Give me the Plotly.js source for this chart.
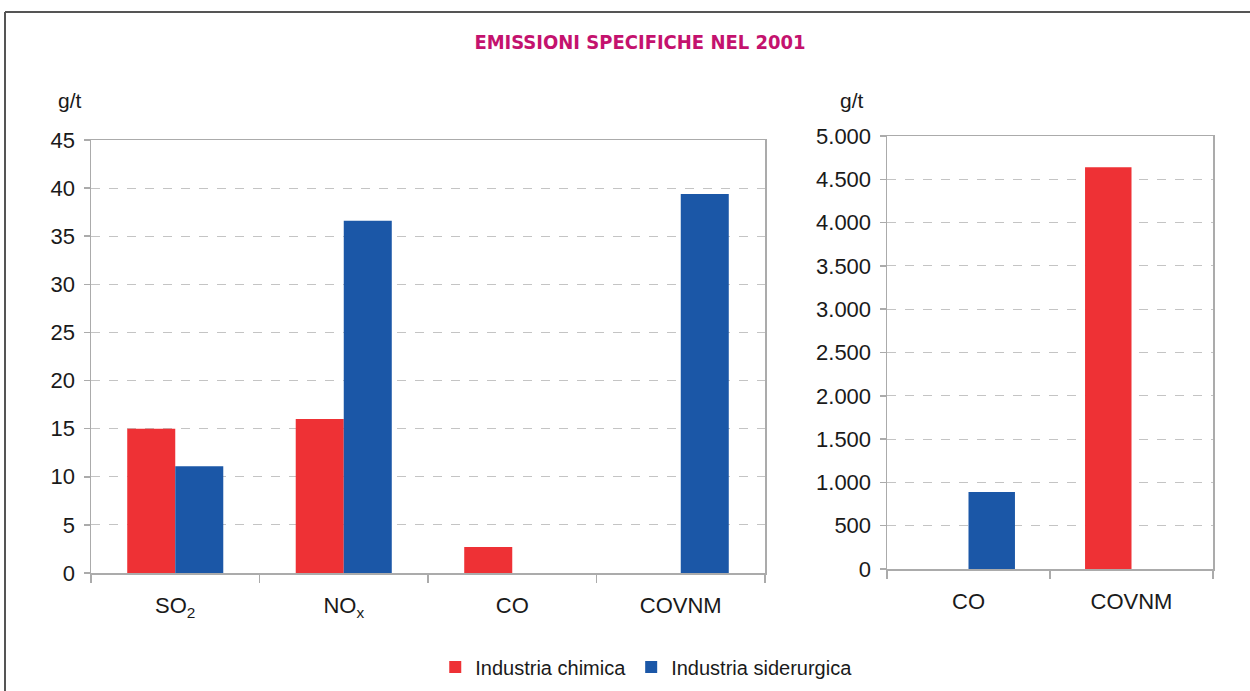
<!DOCTYPE html>
<html>
<head>
<meta charset="utf-8">
<script src="https://cdn.plot.ly/plotly-3.0.1.min.js"></script>
<style>html,body{margin:0;padding:0;background:#fff;}#chart{width:1250px;height:691px;}</style>
</head>
<body>
<div id="chart"></div>
<script>
const categoriesLeft = ['SO<sub>2</sub>', 'NO<sub>x</sub>', 'CO', 'COVNM'];
const chimicaLeft = [15, 16, 2.7, 0];
const siderurgicaLeft = [11.1, 36.6, 0, 39.4];

const categoriesRight = ['CO', 'COVNM'];
const chimicaRight = [0, 4640];
const siderurgicaRight = [890, 0];

const seriesNames = ['Industria chimica', 'Industria siderurgica'];
const leftTicks = [0, 5, 10, 15, 20, 25, 30, 35, 40, 45];
const rightTicks = [0, 500, 1000, 1500, 2000, 2500, 3000, 3500, 4000, 4500, 5000];

const RED = '#EE3135';
const BLUE = '#1B57A7';
const FONT = 'Liberation Sans, Arial, sans-serif';

const traces = [
  {type: 'bar', x: categoriesLeft, y: chimicaLeft, name: seriesNames[0], marker: {color: RED, line: {width: 0}}, xaxis: 'x', yaxis: 'y', legendgroup: 'a'},
  {type: 'bar', x: categoriesLeft, y: siderurgicaLeft, name: seriesNames[1], marker: {color: BLUE, line: {width: 0}}, xaxis: 'x', yaxis: 'y', legendgroup: 'b'},
  {type: 'bar', x: categoriesRight, y: chimicaRight, name: seriesNames[0], marker: {color: RED, line: {width: 0}}, xaxis: 'x2', yaxis: 'y2', showlegend: false, legendgroup: 'a'},
  {type: 'bar', x: categoriesRight, y: siderurgicaRight, name: seriesNames[1], marker: {color: BLUE, line: {width: 0}}, xaxis: 'x2', yaxis: 'y2', showlegend: false, legendgroup: 'b'}
];

const xCommon = {
  type: 'category', showline: true, linecolor: '#ababab', linewidth: 1.5, mirror: true,
  ticks: 'outside', tickson: 'boundaries', ticklen: 8, tickcolor: '#ababab', tickwidth: 1.5,
  showgrid: false, tickfont: {family: FONT, size: 22, color: '#1a1a1a'}, ticklabelstandoff: 12, fixedrange: true
};
const yCommon = {
  showline: true, linecolor: '#ababab', linewidth: 1.5, mirror: true,
  ticks: 'outside', ticklen: 6, tickcolor: '#ababab', tickwidth: 1.5,
  showgrid: true, gridcolor: '#c4c4c4', griddash: 'dash', gridwidth: 1,
  zeroline: false, tickfont: {family: FONT, size: 22, color: '#1a1a1a'}, ticklabelstandoff: 4
};

const layout = {
  width: 1250, height: 691,
  margin: {l: 0, r: 0, t: 0, b: 0},
  paper_bgcolor: '#fff', plot_bgcolor: '#fff',
  separators: ',.',
  barmode: 'group', bargap: 0.43, bargroupgap: 0,
  title: {text: '<b>EMISSIONI SPECIFICHE NEL 2001</b>', x: 0.512, xanchor: 'center', y: 0.939, yanchor: 'middle',
    font: {family: 'DejaVu Sans Condensed, Liberation Sans Narrow, sans-serif', size: 20, color: '#C4126E'}},
  xaxis: Object.assign({}, xCommon, {domain: [91/1250, 765/1250], anchor: 'y'}),
  yaxis: Object.assign({}, yCommon, {domain: [(691-573)/691, (691-140)/691], range: [0, 45], tickvals: leftTicks, anchor: 'x'}),
  xaxis2: Object.assign({}, xCommon, {domain: [887/1250, 1213/1250], anchor: 'y2'}),
  yaxis2: Object.assign({}, yCommon, {domain: [(691-569)/691, (691-136)/691], range: [0, 5000], tickvals: rightTicks, tickformat: ',d', anchor: 'x2'}),
  legend: {orientation: 'h', x: 0.517, xanchor: 'center', y: (691-667)/691, yanchor: 'middle',
    font: {family: FONT, size: 20, color: '#1a1a1a'}, itemwidth: 30, traceorder: 'normal'},
  annotations: [
    {text: 'g/t', xref: 'paper', yref: 'paper', x: 70/1250, y: (691-100)/691, xanchor: 'center', yanchor: 'middle', showarrow: false, font: {family: FONT, size: 21, color: '#1a1a1a'}},
    {text: 'g/t', xref: 'paper', yref: 'paper', x: 852/1250, y: (691-100)/691, xanchor: 'center', yanchor: 'middle', showarrow: false, font: {family: FONT, size: 21, color: '#1a1a1a'}}
  ],
  shapes: [
    {type: 'line', xref: 'paper', yref: 'paper', x0: 5/1250, x1: 1, y0: (691-12)/691, y1: (691-12)/691, line: {color: '#555', width: 2}},
    {type: 'line', xref: 'paper', yref: 'paper', x0: 5/1250, x1: 5/1250, y0: 0, y1: (691-12)/691, line: {color: '#555', width: 2}}
  ],
  showlegend: true
};

Plotly.newPlot('chart', traces, layout, {displayModeBar: false, staticPlot: true});
</script>
</body>
</html>
